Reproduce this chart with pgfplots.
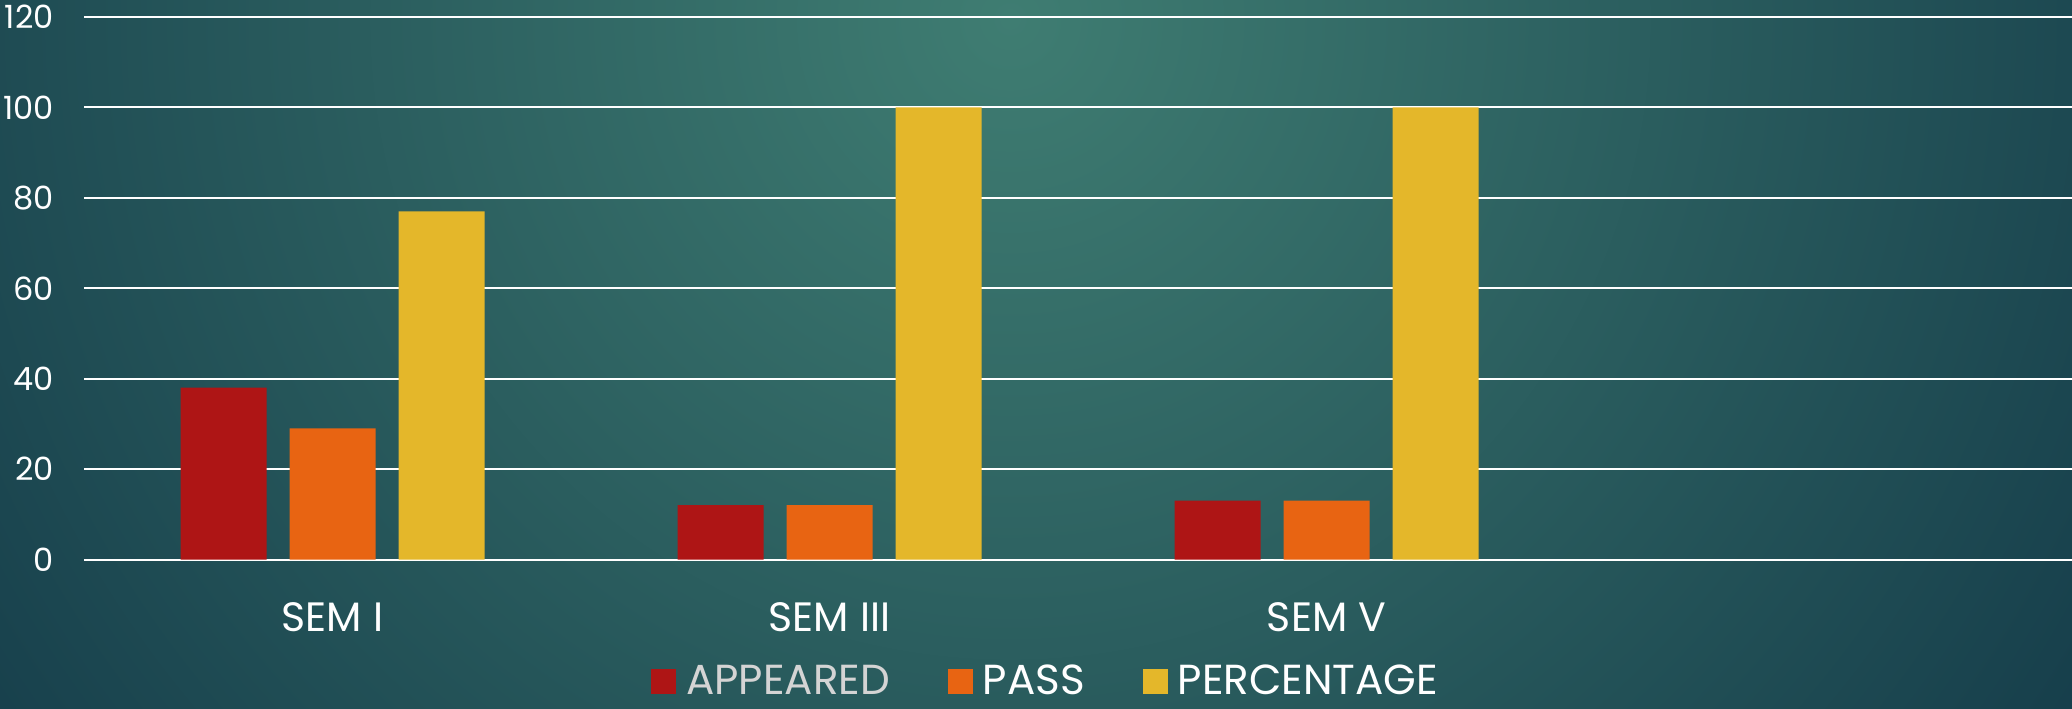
\documentclass[border=0pt]{standalone}
\usepackage{pgfplots}
\pgfplotsset{compat=1.18}
\usepackage{fontspec}
\setmainfont{Poppins}
\definecolor{cApp}{HTML}{AE1515}
\definecolor{cPass}{HTML}{E86412}
\definecolor{cPct}{HTML}{E4B72A}
\definecolor{bgIn}{HTML}{3F7D72}
\definecolor{bgOut}{HTML}{163E4B}
\definecolor{lgGray}{HTML}{D4D4D4}
\begin{document}
\begin{tikzpicture}
\useasboundingbox (0,0) rectangle (1036bp,354.5bp);
\fill[bgOut] (0,0) rectangle (1036bp,354.5bp);
\begin{scope}
\clip (0,0) rectangle (1036bp,354.5bp);
\shade[inner color=bgIn, outer color=bgOut] (505bp,345bp) circle (640bp);
\end{scope}
\begin{axis}[
  at={(42bp,74.75bp)}, anchor=south west,
  scale only axis, width=994bp, height=271.25bp,
  xmin=-0.5, xmax=3.5, ymin=0, ymax=120,
  ytick={0,20,...,120},
  xtick={0,1,2}, xticklabels={SEM I, SEM III, SEM V},
  axis line style={draw=none}, major tick length=0pt,
  ymajorgrids, grid style={white, line width=1bp},
  /pgf/number format/assume math mode=true,
  yticklabel style={font=\fontsize{16bp}{19bp}\selectfont, text=white, anchor=east, inner sep=0pt, xshift=-15bp},
  xticklabel style={font=\fontsize{20.5bp}{24bp}\selectfont, text=white, anchor=base, inner sep=0pt, yshift=-36bp},
  legend style={at={(0.4857,-0.224)}, anchor=center, draw=none, fill=none,
    legend columns=-1, font=\fontsize{21bp}{25bp}\selectfont, text=white,
    /tikz/every even column/.append style={column sep=24bp},
    nodes={inner sep=5bp}},
  legend image code/.code={\fill[#1] (0bp,-6.25bp) rectangle (12.5bp,6.25bp);},
]
\addplot[ybar, bar width=43bp, bar shift=-54.5bp, fill=cApp, draw=none] coordinates {(0,38) (1,12) (2,13)};
\addplot[ybar, bar width=43bp, bar shift=0bp, fill=cPass, draw=none] coordinates {(0,29) (1,12) (2,13)};
\addplot[ybar, bar width=43bp, bar shift=54.5bp, fill=cPct, draw=none] coordinates {(0,77) (1,100) (2,100)};
\legend{\textcolor{lgGray}{APPEARED}, PASS, PERCENTAGE}
\end{axis}
\end{tikzpicture}
\end{document}
